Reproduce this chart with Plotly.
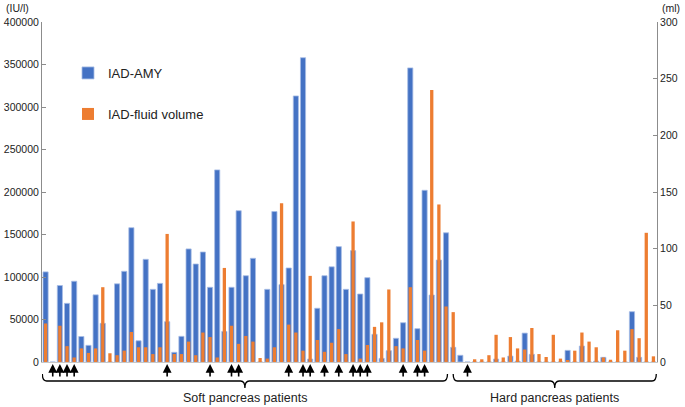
import plotly.graph_objects as go

# ---------------- data ----------------
patients = list(range(86))

iad_amy = [
    106000, 0, 90000, 69000, 95000, 30000, 19600, 79000, 45500, 0,
    92000, 106700, 158000, 25000, 120800, 85500, 92500, 47400, 11400, 30200,
    133000, 115300, 129400, 87900, 226000, 36000, 87900, 178000, 101500, 122000,
    0, 85500, 177000, 91000, 110600, 313000, 358000, 3500, 63200, 101500,
    112000, 135700, 85500, 131000, 80000, 99200, 32600, 4300, 13300, 27900,
    46200, 346000, 39200, 202000, 78800, 120000, 152000, 17300, 7900, 0,
    0, 0, 0, 3500, 0, 7000, 1000, 34000, 9000, 0,
    0, 0, 0, 13700, 0, 18800, 0, 1000, 5500, 0,
    0, 0, 59200, 5500, 0, 0,
]

iad_fluid = [
    34, 0, 32, 14, 4, 12, 8, 12, 66, 7.7,
    6, 10, 26.5, 13, 13, 7, 13, 113, 7, 7,
    18, 6, 26, 22, 4, 83, 32, 16, 23, 18,
    3.5, 3, 13, 140, 33, 26, 10, 76, 19.4, 9,
    17, 29, 7, 124, 3, 15, 31, 35, 64, 14,
    12, 66, 19.4, 10, 240, 139, 49, 44, 0, 0,
    2.4, 2.4, 6, 24, 4, 22, 12, 11, 30, 7,
    4.4, 24, 3, 1.5, 10, 26, 18, 13, 4, 2,
    28, 10, 29, 21, 114, 5,
]

arrow_patients = [1, 2, 3, 4, 17, 23, 26, 27, 34, 36, 37, 39, 41, 43, 44, 45, 50, 52, 53, 59]

groups = [
    ("Soft pancreas patients", 0, 56),
    ("Hard pancreas patients", 57, 85),
]

left_ticks = list(range(0, 400001, 50000))
right_ticks = list(range(0, 301, 50))

# ---------------- figure ----------------
W, H = 685, 407
ML, MR, MT, MB = 42, 28, 22, 45
plot_h = H - MT - MB
plot_w = W - ML - MR


def py(pix):
    """pixel row -> paper y"""
    return (H - MB - pix) / plot_h


def px(pix):
    """pixel column -> paper x"""
    return (pix - ML) / plot_w


FONT = "Liberation Sans, Arial, sans-serif"

fig = go.Figure()
fig.add_trace(go.Bar(
    x=patients, y=iad_amy, name="IAD-AMY", yaxis="y", legend="legend",
    showlegend=True, width=0.72,
    marker=dict(color="#4472C4", line=dict(color="#A7BDE6", width=0.8)),
))
fig.add_trace(go.Bar(
    x=patients, y=iad_fluid, name="IAD-fluid volume", yaxis="y2", legend="legend2",
    showlegend=True, width=0.46,
    marker=dict(color="#ED7D31", line=dict(width=0)),
))

axis_style = dict(
    showgrid=False, zeroline=False, showline=True, linecolor="#8C8C8C", linewidth=1,
    ticks="inside", ticklen=4, tickcolor="#8C8C8C", tickwidth=1,
    tickfont=dict(family=FONT, size=10.5, color="#222222"), automargin=False,
)

legend_style = dict(xanchor="left", yanchor="middle", bgcolor="rgba(0,0,0,0)",
                    font=dict(family=FONT, size=13, color="#222222"), visible=True)

fig.update_layout(
    width=W, height=H,
    margin=dict(l=ML, r=MR, t=MT, b=MB),
    paper_bgcolor="white", plot_bgcolor="white",
    barmode="overlay",
    showlegend=True,
    font=dict(family=FONT, color="#222222"),
    xaxis=dict(range=[-0.5, len(patients) - 0.5], showticklabels=False, ticks="",
               showgrid=False, zeroline=False, showline=True, linecolor="#C8C8C8",
               linewidth=1, automargin=False),
    yaxis=dict(range=[0, 400000], tickvals=left_ticks, tickformat="d", **axis_style),
    yaxis2=dict(range=[0, 300], tickvals=right_ticks, overlaying="y", side="right",
                **axis_style),
    legend=dict(x=px(68), y=py(73), **legend_style),
    legend2=dict(x=px(68), y=py(114), **legend_style),
)

annotations = [
    dict(text="(IU/l)", xref="paper", yref="paper", x=px(17), y=py(8),
         showarrow=False, font=dict(family=FONT, size=10.5, color="#222222"),
         xanchor="center", yanchor="middle"),
    dict(text="(ml)", xref="paper", yref="paper", x=px(671), y=py(8),
         showarrow=False, font=dict(family=FONT, size=10.5, color="#222222"),
         xanchor="center", yanchor="middle"),
]

for p in arrow_patients:
    annotations.append(dict(
        text="", x=p, y=py(364), xref="x", yref="paper",
        showarrow=True, ax=0, ay=14, axref="pixel", ayref="pixel",
        arrowhead=2, arrowsize=1.1, arrowwidth=1.6, arrowcolor="black", standoff=0,
    ))

shapes = []
pads = [(-0.45, 0.2), (0.0, 0.4)]
for (label, a, b), (pl, pr) in zip(groups, pads):
    x0, x1 = a + pl, b + pr
    xc = (x0 + x1) / 2
    yt, yb, yc = py(374), py(381), py(388)
    d = 0.6
    path = (f"M {x0},{yt} Q {x0},{yb} {x0 + d},{yb} L {xc - d},{yb} "
            f"Q {xc},{yb} {xc},{yc} Q {xc},{yb} {xc + d},{yb} "
            f"L {x1 - d},{yb} Q {x1},{yb} {x1},{yt}")
    shapes.append(dict(type="path", path=path, xref="x", yref="paper",
                       line=dict(color="black", width=1.3)))
    annotations.append(dict(text=label, x=xc, y=py(398), xref="x", yref="paper",
                            showarrow=False, xanchor="center", yanchor="middle",
                            font=dict(family=FONT, size=12.5, color="#222222")))

fig.update_layout(annotations=annotations, shapes=shapes)

fig.write_html(
    "out.html",
    config={"displayModeBar": False},
    post_script="document.body.style.margin='0';document.body.style.overflow='hidden';",
)
